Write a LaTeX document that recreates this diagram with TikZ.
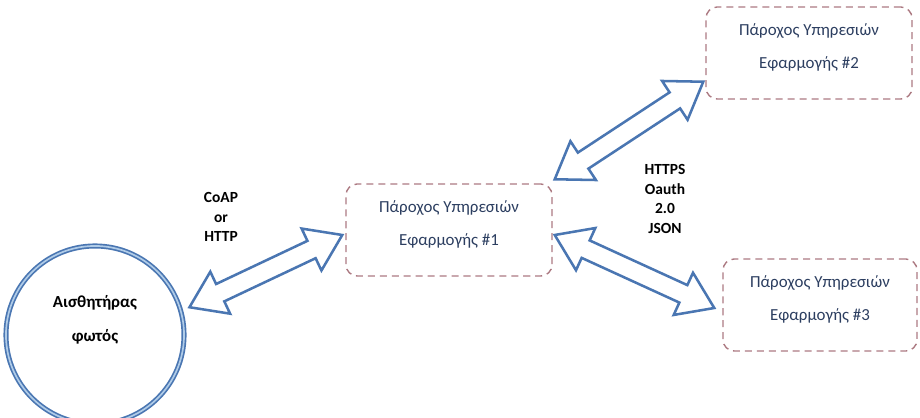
\documentclass[tikz,border=0pt]{standalone}
\usepackage{fontspec}
\setmainfont{Carlito}
\usepackage{tikz}
\usetikzlibrary{calc}
\definecolor{cvb}{RGB}{74,118,178}
\definecolor{cvl}{RGB}{176,204,232}
\definecolor{cvr}{RGB}{172,122,130}
\definecolor{cvt}{RGB}{44,62,96}

% hollow two-headed block arrow between two named points
\newcommand{\blockarrow}[2]{%
  \coordinate (#1-h) at ($(#1)!0.85cm!(#2)$);
  \coordinate (#2-h) at ($(#2)!0.85cm!(#1)$);
  \draw[barr] (#1)
    -- ($(#1-h)!0.58cm!90:(#2)$) -- ($(#1-h)!0.24cm!90:(#2)$)
    -- ($(#2-h)!0.24cm!-90:(#1)$) -- ($(#2-h)!0.58cm!-90:(#1)$)
    -- (#2)
    -- ($(#2-h)!0.58cm!90:(#1)$) -- ($(#2-h)!0.24cm!90:(#1)$)
    -- ($(#1-h)!0.24cm!-90:(#2)$) -- ($(#1-h)!0.58cm!-90:(#2)$)
    -- cycle;}

\begin{document}
\begin{tikzpicture}[
  x=0.025cm,y=-0.025cm,
  sensor/.style={circle,draw=cvb,line width=1.2pt,double=cvl,double distance=1.2pt,
                 minimum size=4.45cm,align=center,text depth=24pt,
                 font=\fontsize{12}{14}\selectfont\bfseries},
  prov/.style={draw=cvr,dashed,dash pattern=on 5pt off 3.5pt,line width=1pt,
               rounded corners=8pt,align=center,text=cvt,text depth=10pt,
               minimum width=5.15cm,minimum height=2.3cm,font=\fontsize{12}{14}\selectfont},
  lbl/.style={align=center,font=\fontsize{11}{14}\selectfont\bfseries},
  barr/.style={draw=cvb,line width=1.8pt,line join=miter,fill=white}
]
\useasboundingbox (0,0) rectangle (920,418);

\node[sensor] (sensor) at (95,335) {Αισθητήρας\\[10pt]φωτός};
\node[prov] (p1) at (449,230) {Πάροχος Υπηρεσιών\\[10pt]Εφαρμογής \#1};
\node[prov] (p2) at (809,53) {Πάροχος Υπηρεσιών\\[10pt]Εφαρμογής \#2};
\node[prov,minimum width=4.85cm] (p3) at (820,305) {Πάροχος Υπηρεσιών\\[10pt]Εφαρμογής \#3};

\coordinate (a1s) at ([shift={(9,0)}]sensor.18);
\coordinate (a1e) at ([shift={(-3,5)}]p1.west);
\coordinate (a2s) at ([shift={(2,-4)}]p1.north east);
\coordinate (a2e) at ([shift={(-2,-18)}]p2.south west);
\coordinate (a3s) at ([shift={(2,5)}]p1.east);
\coordinate (a3e) at ([shift={(-8,3)}]p3.west);
\blockarrow{a1s}{a1e}
\blockarrow{a2s}{a2e}
\blockarrow{a3s}{a3e}

\node[lbl] (coap) at (221,217) {CoAP\\or\\HTTP};
\node[lbl] (https) at (665,199) {HTTPS\\Oauth\\2.0\\JSON};
\end{tikzpicture}
\end{document}
